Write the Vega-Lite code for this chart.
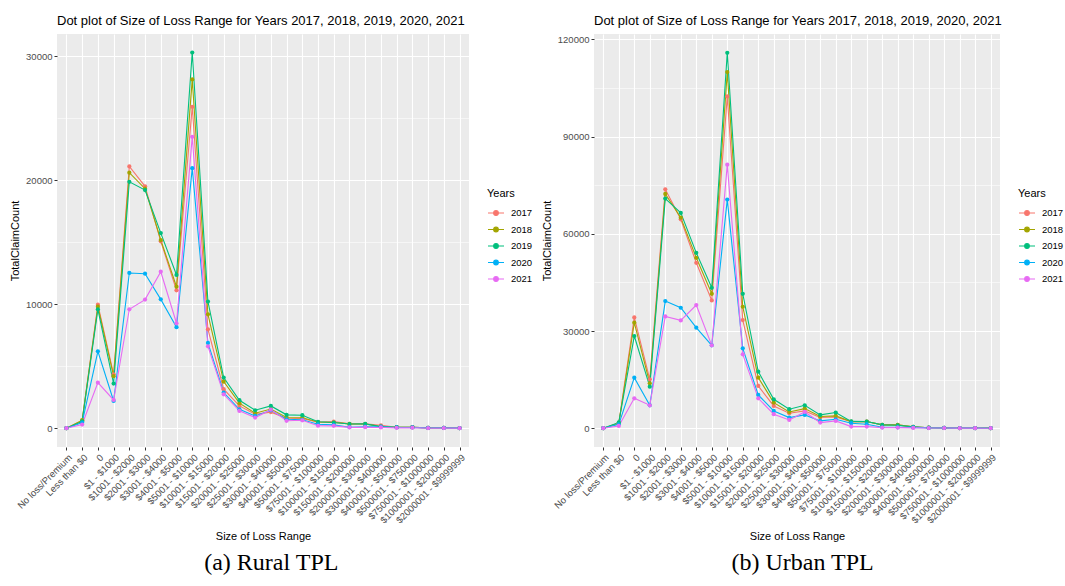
{
  "$schema": "https://vega.github.io/schema/vega-lite/v6.json",
  "padding": {"left": 9, "top": 15, "right": 2, "bottom": 5},
  "spacing": 8,
  "datasets": {
    "rural": [
      {"range": "No loss/Premium", "2017": 0, "2018": 0, "2019": 0, "2020": 0, "2021": 0},
      {"range": "Less than $0", "2017": 600, "2018": 650, "2019": 550, "2020": 450, "2021": 300},
      {"range": "0", "2017": 9970, "2018": 9810, "2019": 9600, "2020": 6210, "2021": 3680},
      {"range": "$1 - $1000", "2017": 4350, "2018": 4200, "2019": 3600, "2020": 2200, "2021": 2280},
      {"range": "$1001 - $2000", "2017": 21130, "2018": 20620, "2019": 19890, "2020": 12530, "2021": 9600},
      {"range": "$2001 - $3000", "2017": 19520, "2018": 19330, "2019": 19220, "2020": 12470, "2021": 10380},
      {"range": "$3001 - $4000", "2017": 15080, "2018": 15190, "2019": 15750, "2020": 10400, "2021": 12630},
      {"range": "$4001 - $5000", "2017": 11130, "2018": 11420, "2019": 12370, "2020": 8150, "2021": 8470},
      {"range": "$5001 - $10000", "2017": 25940, "2018": 28150, "2019": 30320, "2020": 20990, "2021": 23520},
      {"range": "$10001 - $15000", "2017": 7980, "2018": 9190, "2019": 10220, "2020": 6880, "2021": 6610},
      {"range": "$15001 - $20000", "2017": 3150, "2018": 3760, "2019": 4090, "2020": 2880, "2021": 2740},
      {"range": "$20001 - $25000", "2017": 1800, "2018": 2020, "2019": 2260, "2020": 1530, "2021": 1400},
      {"range": "$25001 - $30000", "2017": 1130, "2018": 1210, "2019": 1450, "2020": 990, "2021": 860},
      {"range": "$30001 - $40000", "2017": 1300, "2018": 1550, "2019": 1800, "2020": 1450, "2021": 1500},
      {"range": "$40001 - $50000", "2017": 800, "2018": 870, "2019": 1080, "2020": 720, "2021": 600},
      {"range": "$50001 - $75000", "2017": 780, "2018": 850, "2019": 1050, "2020": 680, "2021": 640},
      {"range": "$75001 - $100000", "2017": 480, "2018": 500, "2019": 520, "2020": 320, "2021": 200},
      {"range": "$100001 - $150000", "2017": 540, "2018": 460, "2019": 460, "2020": 270, "2021": 190},
      {"range": "$150001 - $200000", "2017": 350, "2018": 350, "2019": 340, "2020": 80, "2021": 70},
      {"range": "$200001 - $300000", "2017": 350, "2018": 340, "2019": 350, "2020": 120, "2021": 80},
      {"range": "$300001 - $400000", "2017": 240, "2018": 130, "2019": 130, "2020": 120, "2021": 60},
      {"range": "$400001 - $500000", "2017": 80, "2018": 80, "2019": 80, "2020": 60, "2021": 30},
      {"range": "$500001 - $750000", "2017": 80, "2018": 80, "2019": 80, "2020": 60, "2021": 40},
      {"range": "$750001 - $1000000", "2017": 30, "2018": 30, "2019": 30, "2020": 20, "2021": 10},
      {"range": "$1000001 - $2000000", "2017": 30, "2018": 30, "2019": 30, "2020": 20, "2021": 10},
      {"range": "$2000001 - $9999999", "2017": 10, "2018": 10, "2019": 10, "2020": 5, "2021": 5}
    ],
    "urban": [
      {"range": "No loss/Premium", "2017": 0, "2018": 0, "2019": 0, "2020": 0, "2021": 0},
      {"range": "Less than $0", "2017": 1500, "2018": 1600, "2019": 1800, "2020": 1200, "2021": 700},
      {"range": "0", "2017": 34210, "2018": 32570, "2019": 28460, "2020": 15620, "2021": 9250},
      {"range": "$1 - $1000", "2017": 15100, "2018": 13870, "2019": 12840, "2020": 7090, "2021": 7090},
      {"range": "$1001 - $2000", "2017": 73770, "2018": 72330, "2019": 70890, "2020": 39250, "2021": 34520},
      {"range": "$2001 - $3000", "2017": 64500, "2018": 65000, "2019": 66470, "2020": 37190, "2021": 33290},
      {"range": "$3001 - $4000", "2017": 51060, "2018": 52600, "2019": 54140, "2020": 31030, "2021": 38010},
      {"range": "$4001 - $5000", "2017": 39450, "2018": 41510, "2019": 43360, "2020": 25580, "2021": 25580},
      {"range": "$5001 - $10000", "2017": 102430, "2018": 109930, "2019": 115890, "2020": 70580, "2021": 81370},
      {"range": "$10001 - $15000", "2017": 33390, "2018": 37500, "2019": 41510, "2020": 24660, "2021": 22810},
      {"range": "$15001 - $20000", "2017": 13050, "2018": 15620, "2019": 17470, "2020": 10270, "2021": 9250},
      {"range": "$20001 - $25000", "2017": 6880, "2018": 7910, "2019": 8940, "2020": 5340, "2021": 4320},
      {"range": "$25001 - $30000", "2017": 4620, "2018": 5030, "2019": 5860, "2020": 3290, "2021": 2570},
      {"range": "$30001 - $40000", "2017": 5340, "2018": 6060, "2019": 7090, "2020": 4110, "2021": 5030},
      {"range": "$40001 - $50000", "2017": 3290, "2018": 3600, "2019": 4110, "2020": 2260, "2021": 1750},
      {"range": "$50001 - $75000", "2017": 3490, "2018": 3800, "2019": 4830, "2020": 2770, "2021": 2260},
      {"range": "$75001 - $100000", "2017": 2000, "2018": 2050, "2019": 2100, "2020": 1540, "2021": 510},
      {"range": "$100001 - $150000", "2017": 2050, "2018": 2050, "2019": 2050, "2020": 1230, "2021": 510},
      {"range": "$150001 - $200000", "2017": 1030, "2018": 1030, "2019": 1030, "2020": 300, "2021": 200},
      {"range": "$200001 - $300000", "2017": 1030, "2018": 1030, "2019": 900, "2020": 300, "2021": 200},
      {"range": "$300001 - $400000", "2017": 410, "2018": 410, "2019": 410, "2020": 250, "2021": 100},
      {"range": "$400001 - $500000", "2017": 150, "2018": 150, "2019": 150, "2020": 100, "2021": 50},
      {"range": "$500001 - $750000", "2017": 100, "2018": 100, "2019": 100, "2020": 80, "2021": 50},
      {"range": "$750001 - $1000000", "2017": 60, "2018": 60, "2019": 60, "2020": 40, "2021": 30},
      {"range": "$1000001 - $2000000", "2017": 40, "2018": 40, "2019": 40, "2020": 30, "2021": 20},
      {"range": "$2000001 - $9999999", "2017": 20, "2018": 20, "2019": 20, "2020": 10, "2021": 10}
    ]
  },
  "hconcat": [
    {
      "title": {"text": "(a) Rural TPL", "orient": "bottom", "anchor": "middle", "font": "Liberation Serif", "fontSize": 24, "fontWeight": "normal", "color": "#000000", "offset": 10},
      "vconcat": [
        {
          "width": 412,
          "height": 413,
          "data": {"name": "rural"},
          "transform": [{"fold": ["2017", "2018", "2019", "2020", "2021"], "as": ["Years", "TotalClaimCount"]}],
          "title": {"text": "Dot plot of Size of Loss Range for Years 2017, 2018, 2019, 2020, 2021", "anchor": "start", "frame": "group", "font": "Liberation Sans", "fontSize": 13, "fontWeight": "normal", "color": "#000000", "offset": 6},
          "encoding": {
            "x": {"field": "range", "type": "nominal", "title": "Size of Loss Range",
              "sort": ["No loss/Premium","Less than $0","0","$1 - $1000","$1001 - $2000","$2001 - $3000","$3001 - $4000","$4001 - $5000","$5001 - $10000","$10001 - $15000","$15001 - $20000","$20001 - $25000","$25001 - $30000","$30001 - $40000","$40001 - $50000","$50001 - $75000","$75001 - $100000","$100001 - $150000","$150001 - $200000","$200001 - $300000","$300001 - $400000","$400001 - $500000","$500001 - $750000","$750001 - $1000000","$1000001 - $2000000","$2000001 - $9999999"],
              "scale": {"type": "point", "padding": 0.6},
              "axis": {"labelAngle": -45, "labelAlign": "right", "labelBaseline": "top", "titlePadding": 6}},
            "color": {"field": "Years", "type": "nominal",
              "scale": {"range": ["#F8766D", "#A3A500", "#00BF7D", "#00B0F6", "#E76BF3"]},
              "legend": {"orient": "none", "legendX": 430, "legendY": 154, "title": "Years",
                "symbolType": "M-1,0L1,0M-0.29,0A0.29,0.29,0,1,0,0.29,0A0.29,0.29,0,1,0,-0.29,0Z",
                "symbolSize": 256, "symbolStrokeWidth": 1.2, "labelOffset": 6, "rowPadding": 2.5, "titlePadding": 5}}
          },
          "layer": [
            {"mark": {"type": "line", "strokeWidth": 1.1},
             "encoding": {"y": {"field": "TotalClaimCount", "type": "quantitative", "title": "TotalClaimCount",
               "scale": {"domain": [-1515, 31815], "nice": false, "zero": false},
               "axis": {"values": [0, 10000, 20000, 30000], "format": "d", "orient": "left", "titlePadding": 5}}}},
            {"mark": {"type": "circle", "size": 18, "opacity": 1},
             "encoding": {"y": {"field": "TotalClaimCount", "type": "quantitative",
               "axis": {"orient": "right", "values": [5000, 15000, 25000], "grid": true, "gridWidth": 0.55, "labels": false, "ticks": false, "domain": false, "title": null, "maxExtent": 0, "minExtent": 0}}}}
          ],
          "resolve": {"axis": {"y": "independent"}}
        }
      ]
    },
    {
      "title": {"text": "(b) Urban TPL", "orient": "bottom", "anchor": "middle", "font": "Liberation Serif", "fontSize": 24, "fontWeight": "normal", "color": "#000000", "offset": 10},
      "vconcat": [
        {
          "width": 406,
          "height": 413,
          "data": {"name": "urban"},
          "transform": [{"fold": ["2017", "2018", "2019", "2020", "2021"], "as": ["Years", "TotalClaimCount"]}],
          "title": {"text": "Dot plot of Size of Loss Range for Years 2017, 2018, 2019, 2020, 2021", "anchor": "start", "frame": "group", "font": "Liberation Sans", "fontSize": 13, "fontWeight": "normal", "color": "#000000", "offset": 6},
          "encoding": {
            "x": {"field": "range", "type": "nominal", "title": "Size of Loss Range",
              "sort": ["No loss/Premium","Less than $0","0","$1 - $1000","$1001 - $2000","$2001 - $3000","$3001 - $4000","$4001 - $5000","$5001 - $10000","$10001 - $15000","$15001 - $20000","$20001 - $25000","$25001 - $30000","$30001 - $40000","$40001 - $50000","$50001 - $75000","$75001 - $100000","$100001 - $150000","$150001 - $200000","$200001 - $300000","$300001 - $400000","$400001 - $500000","$500001 - $750000","$750001 - $1000000","$1000001 - $2000000","$2000001 - $9999999"],
              "scale": {"type": "point", "padding": 0.6},
              "axis": {"labelAngle": -45, "labelAlign": "right", "labelBaseline": "top", "titlePadding": 6}},
            "color": {"field": "Years", "type": "nominal",
              "scale": {"range": ["#F8766D", "#A3A500", "#00BF7D", "#00B0F6", "#E76BF3"]},
              "legend": {"orient": "none", "legendX": 424, "legendY": 154, "title": "Years",
                "symbolType": "M-1,0L1,0M-0.29,0A0.29,0.29,0,1,0,0.29,0A0.29,0.29,0,1,0,-0.29,0Z",
                "symbolSize": 256, "symbolStrokeWidth": 1.2, "labelOffset": 6, "rowPadding": 2.5, "titlePadding": 5}}
          },
          "layer": [
            {"mark": {"type": "line", "strokeWidth": 1.1},
             "encoding": {"y": {"field": "TotalClaimCount", "type": "quantitative", "title": "TotalClaimCount",
               "scale": {"domain": [-5795, 121695], "nice": false, "zero": false},
               "axis": {"values": [0, 30000, 60000, 90000, 120000], "format": "d", "orient": "left", "titlePadding": 5}}}},
            {"mark": {"type": "circle", "size": 18, "opacity": 1},
             "encoding": {"y": {"field": "TotalClaimCount", "type": "quantitative",
               "axis": {"orient": "right", "values": [15000, 45000, 75000, 105000], "grid": true, "gridWidth": 0.55, "labels": false, "ticks": false, "domain": false, "title": null, "maxExtent": 0, "minExtent": 0}}}}
          ],
          "resolve": {"axis": {"y": "independent"}}
        }
      ]
    }
  ],
  "resolve": {"scale": {"color": "independent"}, "legend": {"color": "independent"}},
  "config": {
    "view": {"fill": "#EBEBEB", "stroke": null},
    "font": "Liberation Sans",
    "axis": {"grid": true, "gridColor": "#FFFFFF", "gridWidth": 1.1, "gridOpacity": 1, "domain": false, "tickColor": "#333333", "tickSize": 3, "tickWidth": 1, "labelColor": "#4D4D4D", "labelFontSize": 9.5, "labelFont": "Liberation Sans", "labelPadding": 2, "titleFont": "Liberation Sans", "titleFontSize": 11, "titleFontWeight": "normal", "titleColor": "#000000"},
    "legend": {"titleFont": "Liberation Sans", "titleFontSize": 11, "titleFontWeight": "normal", "titleColor": "#000000", "labelFont": "Liberation Sans", "labelFontSize": 9.5, "labelColor": "#000000"}
  }
}
